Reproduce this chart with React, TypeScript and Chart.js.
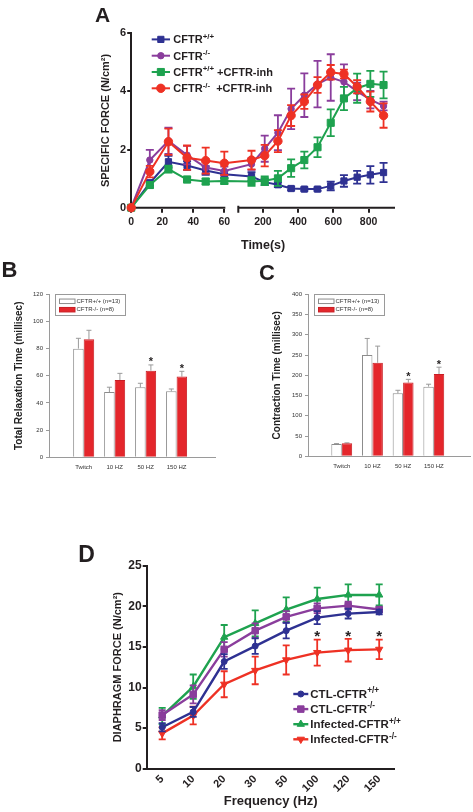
import React, { useEffect, useRef } from 'react';
import { Chart, registerables, LinearScale } from 'chart.js';

Chart.register(...registerables);

const FONT = "'Liberation Sans', Arial, Helvetica, sans-serif";
const INK = '#231f20';
Chart.defaults.font.family = FONT;
Chart.defaults.color = INK;

// ---------------- Panel A data ----------------
const A_TIMES = [0, 12, 24, 36, 48, 60, 135, 210, 285, 360, 435, 510, 585, 660, 735, 810, 885];
const A_TIME_TICKS = [0, 20, 40, 60, 200, 400, 600, 800];
const A_SEG1 = [0, 60];
const A_SEG2 = [60, 950];
const A_WT = [0, 0.85, 1.58, 1.45, 1.28, 1.15, 1.07, 0.88, 0.79, 0.66, 0.64, 0.64, 0.75, 0.92, 1.05, 1.13, 1.21];
const A_WT_ERR = [0, 0.1, 0.2, 0.15, 0.15, 0.12, 0.15, 0.1, 0.08, 0.06, 0.06, 0.06, 0.15, 0.2, 0.22, 0.3, 0.33];
const A_KO = [0, 1.64, 2.3, 1.81, 1.38, 1.26, 1.5, 2.03, 2.58, 3.4, 3.87, 4.25, 4.48, 4.33, 4.0, 3.72, 3.5];
const A_KO_ERR = [0, 0.35, 0.45, 0.32, 0.2, 0.15, 0.2, 0.45, 0.6, 0.7, 0.75, 0.8, 0.8, 0.6, 0.3, 0.3, 0.15];
const A_WT_INH = [0, 0.78, 1.33, 0.97, 0.9, 0.92, 0.9, 0.93, 1.01, 1.36, 1.64, 2.08, 2.92, 3.76, 4.11, 4.26, 4.22];
const A_WT_INH_ERR = [0, 0.1, 0.12, 0.1, 0.1, 0.1, 0.15, 0.15, 0.26, 0.3, 0.29, 0.34, 0.46, 0.4, 0.5, 0.45, 0.46];
const A_KO_INH = [0, 1.24, 2.27, 1.72, 1.62, 1.53, 1.64, 1.79, 2.29, 3.17, 3.65, 4.22, 4.66, 4.6, 4.16, 3.65, 3.17];
const A_KO_INH_ERR = [0, 0.2, 0.45, 0.42, 0.45, 0.4, 0.32, 0.37, 0.38, 0.36, 0.25, 0.27, 0.25, 0.15, 0.23, 0.34, 0.42];
const A_LABELS = ['CFTR^{+/+}', 'CFTR^{-/-}', 'CFTR^{+/+} +CFTR-inh', 'CFTR^{-/-}  +CFTR-inh'];

// ---------------- Panel B / C data ----------------
const BC_CATS = ['Twitch', '10 HZ', '50 HZ', '150 HZ'];
const BC_POS = [1, 2, 3, 4];
const BC_SERIES = ['CFTR+/+ (n=13)', 'CFTR-/- (n=8)'];
const B_WT = [80, 48, 51.5, 48.6];
const B_WT_ERR = [7.6, 3.6, 3.0, 1.7];
const B_KO = [86.9, 56.9, 63.8, 59.4];
const B_KO_ERR = [6.6, 4.9, 4.2, 3.9];
const B_STARS = [false, false, true, true];
const C_WT = [30.4, 250, 155.5, 172];
const C_WT_ERR = [1, 41, 7.5, 6];
const C_KO = [32, 231, 182, 203];
const C_KO_ERR = [1.2, 41, 8, 17];
const C_STARS = [false, false, true, true];

// ---------------- Panel D data ----------------
const D_FREQS = ['5', '10', '20', '30', '50', '100', '120', '150'];
const D_CTL_WT = [5.1, 7.0, 13.2, 15.1, 17.0, 18.6, 19.1, 19.3];
const D_CTL_WT_ERR = [0.5, 0.6, 0.9, 0.95, 0.95, 0.8, 0.6, 0.3];
const D_CTL_KO = [6.6, 9.15, 14.7, 17.0, 18.7, 19.75, 20.08, 19.6];
const D_CTL_KO_ERR = [0.6, 1.1, 0.9, 0.9, 0.7, 0.6, 0.5, 0.3];
const D_INF_WT = [6.5, 10.1, 16.2, 17.9, 19.6, 20.9, 21.4, 21.4];
const D_INF_WT_ERR = [1.0, 1.5, 1.5, 1.6, 1.5, 1.4, 1.3, 1.3];
const D_INF_KO = [4.35, 6.55, 10.4, 12.1, 13.4, 14.3, 14.6, 14.7];
const D_INF_KO_ERR = [0.75, 1.1, 1.6, 1.7, 1.8, 1.6, 1.4, 1.2];
const D_STARS = [false, false, false, false, false, true, true, true];
const D_LABELS = ['CTL-CFTR^{+/+}', 'CTL-CFTR^{-/-}', 'Infected-CFTR^{+/+}', 'Infected-CFTR^{-/-}'];

// ---------------- colours ----------------
const BLUE = '#2e3192';
const PURPLE = '#8a3d9c';
const GREEN = '#1ea24f';
const RED = '#ee3124';
const BAR_RED = '#e4262b';

// broken-axis layout fractions
const BREAK_F1 = 0.353;
const BREAK_F2 = 0.406;

class BrokenTimeScale extends LinearScale {
  static id = 'brokenTime';
  toDecimal(v: number) {
    if (v <= A_SEG1[1]) return ((v - A_SEG1[0]) / (A_SEG1[1] - A_SEG1[0])) * BREAK_F1;
    return BREAK_F2 + ((v - A_SEG2[0]) / (A_SEG2[1] - A_SEG2[0])) * (1 - BREAK_F2);
  }
  getPixelForValue(v: any) {
    if (v === null || v === undefined || isNaN(v)) return NaN;
    return this.getPixelForDecimal(this.toDecimal(v));
  }
  getValueForPixel(p: number) {
    const d = this.getDecimalForPixel(p);
    if (d <= BREAK_F1) return A_SEG1[0] + (d / BREAK_F1) * (A_SEG1[1] - A_SEG1[0]);
    return A_SEG2[0] + ((d - BREAK_F2) / (1 - BREAK_F2)) * (A_SEG2[1] - A_SEG2[0]);
  }
  buildTicks() {
    return A_TIME_TICKS.map((value) => ({ value }));
  }
  drawBorder() {
    const ctx = (this as any).ctx as CanvasRenderingContext2D;
    const bo: any = (this as any).options.border;
    const y = (this as any).top;
    const a = this.getPixelForDecimal(0);
    const b = this.getPixelForDecimal(BREAK_F1);
    const c = this.getPixelForDecimal(BREAK_F2);
    const d = this.getPixelForDecimal(1);
    ctx.save();
    ctx.strokeStyle = bo.color;
    ctx.lineWidth = bo.width;
    ctx.beginPath();
    ctx.moveTo(a - 1, y);
    ctx.lineTo(b + 1, y);
    ctx.moveTo(c, y);
    ctx.lineTo(d, y);
    ctx.moveTo(c, y - 2);
    ctx.lineTo(c, y + 5);
    ctx.stroke();
    ctx.restore();
  }
}
Chart.register(BrokenTimeScale as any);

// ---------------- helpers ----------------
function drawRich(ctx: CanvasRenderingContext2D, text: string, x: number, baseline: number, size: number) {
  const parts = text.split(/(\^\{[^}]*\})/).filter((p) => p.length > 0);
  let cx = x;
  ctx.textAlign = 'left';
  ctx.textBaseline = 'alphabetic';
  for (const p of parts) {
    const sup = p.startsWith('^{');
    const t = sup ? p.slice(2, -1) : p;
    const fs = sup ? size * 0.72 : size;
    ctx.font = `bold ${fs}px ${FONT}`;
    ctx.fillText(t, cx, sup ? baseline - size * 0.42 : baseline);
    cx += ctx.measureText(t).width;
  }
}

function drawMarker(ctx: CanvasRenderingContext2D, style: string, r: number, rot: number, x: number, y: number) {
  ctx.beginPath();
  if (style === 'rect') {
    const s = r * Math.SQRT1_2;
    ctx.rect(x - s, y - s, 2 * s, 2 * s);
  } else if (style === 'triangle') {
    for (let k = 0; k < 3; k++) {
      const a = (rot * Math.PI) / 180 + (k * 2 * Math.PI) / 3;
      const px = x + Math.sin(a) * r;
      const py = y - Math.cos(a) * r;
      if (k === 0) ctx.moveTo(px, py);
      else ctx.lineTo(px, py);
    }
    ctx.closePath();
  } else {
    ctx.arc(x, y, r, 0, Math.PI * 2);
  }
  ctx.fill();
  ctx.stroke();
}

const errorBarsPlugin = {
  id: 'errorBars',
  beforeDatasetDraw(chart: any, args: any) {
    const ds = chart.data.datasets[args.index];
    if (!ds.errors) return;
    const meta = args.meta;
    const ys = chart.scales[meta.yAxisID];
    const ctx = chart.ctx as CanvasRenderingContext2D;
    ctx.save();
    ctx.strokeStyle = ds.errorColor || ds.borderColor;
    ctx.lineWidth = ds.errorWidth || 1.5;
    const cw = ds.capHalf || 3;
    meta.data.forEach((el: any, i: number) => {
      const e = ds.errors[i];
      if (!e) return;
      const v = meta.controller.getParsed(i).y;
      const x = el.x;
      const yt = ys.getPixelForValue(v + e);
      const yb = ds.errorUpOnly ? el.y : ys.getPixelForValue(v - e);
      ctx.beginPath();
      ctx.moveTo(x, yb);
      ctx.lineTo(x, yt);
      ctx.moveTo(x - cw, yt);
      ctx.lineTo(x + cw, yt);
      if (!ds.errorUpOnly) {
        ctx.moveTo(x - cw, yb);
        ctx.lineTo(x + cw, yb);
      }
      ctx.stroke();
    });
    ctx.restore();
  },
};

const starsPlugin = {
  id: 'stars',
  afterDatasetsDraw(chart: any, _args: any, opts: any) {
    const ctx = chart.ctx as CanvasRenderingContext2D;
    chart.data.datasets.forEach((ds: any, i: number) => {
      if (!ds.stars) return;
      const meta = chart.getDatasetMeta(i);
      const ys = chart.scales[meta.yAxisID];
      ds.stars.forEach((on: boolean, j: number) => {
        if (!on) return;
        const el = meta.data[j] as any;
        const v = meta.controller.getParsed(j).y;
        const e = ds.errors ? ds.errors[j] : 0;
        const cy = ys.getPixelForValue(v + e) - opts.gap;
        ctx.save();
        ctx.font = `bold ${opts.size}px ${FONT}`;
        ctx.textAlign = 'center';
        ctx.textBaseline = 'alphabetic';
        ctx.fillStyle = INK;
        ctx.fillText('*', el.x, cy + 0.585 * opts.size);
        ctx.restore();
      });
    });
  },
};

const lineLegendPlugin = {
  id: 'lineLegend',
  afterDraw(chart: any, _args: any, opts: any) {
    if (!opts || !opts.show) return;
    const ctx = chart.ctx as CanvasRenderingContext2D;
    chart.data.datasets.forEach((ds: any, i: number) => {
      const cy = opts.y + i * opts.rowH;
      ctx.save();
      ctx.strokeStyle = ds.borderColor;
      ctx.lineWidth = ds.borderWidth;
      ctx.beginPath();
      ctx.moveTo(opts.x, cy);
      ctx.lineTo(opts.x + opts.lineLen, cy);
      ctx.stroke();
      ctx.fillStyle = ds.borderColor;
      ctx.lineWidth = 1;
      drawMarker(ctx, ds.pointStyle, ds.pointRadius, ds.pointRotation || 0, opts.x + opts.lineLen / 2, cy);
      ctx.fillStyle = INK;
      drawRich(ctx, ds.legendText, opts.x + opts.lineLen + opts.gap, cy + opts.size * 0.36, opts.size);
      ctx.restore();
    });
  },
};

const boxLegendPlugin = {
  id: 'boxLegend',
  afterDraw(chart: any, _args: any, opts: any) {
    if (!opts || !opts.show) return;
    const ctx = chart.ctx as CanvasRenderingContext2D;
    const x0 = Math.round(chart.chartArea.left + opts.dx) + 0.5;
    const y0 = Math.round(chart.chartArea.top + opts.dy) + 0.5;
    ctx.save();
    ctx.strokeStyle = '#9a9a9a';
    ctx.lineWidth = 1;
    ctx.strokeRect(x0, y0, opts.w, opts.h);
    chart.data.datasets.forEach((ds: any, i: number) => {
      const cy = y0 + opts.firstRow + i * opts.rowH;
      ctx.fillStyle = ds.backgroundColor;
      ctx.fillRect(x0 + opts.swX, cy - opts.swH / 2, opts.swW, opts.swH);
      ctx.strokeStyle = ds.borderColor;
      ctx.strokeRect(x0 + opts.swX, cy - opts.swH / 2, opts.swW, opts.swH);
      ctx.fillStyle = '#333';
      ctx.font = `${opts.size}px ${FONT}`;
      ctx.textAlign = 'left';
      ctx.textBaseline = 'middle';
      ctx.fillText(ds.label, x0 + opts.textX, cy);
    });
    ctx.restore();
  },
};

// ---------------- configs ----------------
function lineDs(label: string, xs: any[] | null, ys: number[], errs: number[], color: string, style: string, r: number, extra: any = {}) {
  return {
    label,
    legendText: label,
    data: xs ? ys.map((y, i) => ({ x: xs[i], y })) : ys,
    borderColor: color,
    backgroundColor: color,
    pointBackgroundColor: color,
    pointBorderColor: color,
    pointBorderWidth: 1,
    pointStyle: style,
    pointRadius: r,
    borderWidth: 2,
    tension: 0,
    clip: false,
    errors: errs,
    errorColor: color,
    errorWidth: 1.8,
    ...extra,
  };
}

function configA() {
  return {
    type: 'line',
    data: {
      datasets: [
        lineDs(A_LABELS[0], A_TIMES, A_WT, A_WT_ERR, BLUE, 'rect', 4.4, { order: 4, capHalf: 4 }),
        lineDs(A_LABELS[1], A_TIMES, A_KO, A_KO_ERR, PURPLE, 'circle', 3.2, { order: 3, capHalf: 4 }),
        lineDs(A_LABELS[2], A_TIMES, A_WT_INH, A_WT_INH_ERR, GREEN, 'rect', 5, { order: 2, capHalf: 4 }),
        lineDs(A_LABELS[3], A_TIMES, A_KO_INH, A_KO_INH_ERR, RED, 'circle', 4.2, { order: 1, capHalf: 4 }),
      ],
    },
    options: {
      responsive: false,
      animation: false,
      devicePixelRatio: 1,
      layout: { padding: { left: 99.4, right: 78, top: 33.3, bottom: 2 } },
      plugins: {
        legend: { display: false },
        tooltip: { enabled: false },
        lineLegend: { show: true, x: 151.7, y: 39.4, rowH: 16.3, lineLen: 18.3, gap: 3.3, size: 11 },
      },
      scales: {
        x: {
          type: 'brokenTime',
          min: 0,
          max: 950,
          afterFit: (s: any) => { s.height = 45.3; },
          ticks: { autoSkip: false, maxRotation: 0, padding: 3, font: { size: 10.5, weight: 'bold' }, color: INK },
          grid: { display: true, drawOnChartArea: false, drawTicks: true, tickLength: 5, color: INK, lineWidth: 2 },
          border: { display: true, color: INK, width: 2 },
          title: { display: true, text: 'Time(s)', padding: 0, font: { size: 12.5, weight: 'bold' }, color: INK },
        },
        y: {
          min: 0,
          max: 6,
          afterFit: (s: any) => { s.width = 31.8; },
          ticks: { stepSize: 2, padding: 1, font: { size: 11, weight: 'bold' }, color: INK },
          grid: { display: true, drawOnChartArea: false, drawTicks: true, tickLength: 4, color: INK, lineWidth: 2 },
          border: { display: true, color: INK, width: 2 },
          title: { display: true, text: 'SPECIFIC FORCE (N/cm²)', padding: 0, font: { size: 11, weight: 'bold' }, color: INK },
        },
      },
    },
    plugins: [errorBarsPlugin, lineLegendPlugin],
  };
}

function barDs(label: string, ys: number[], errs: number[], fill: string, border: string, stars: boolean[] | null) {
  return {
    label,
    data: ys.map((y, i) => ({ x: BC_POS[i], y })),
    backgroundColor: fill,
    borderColor: border,
    borderWidth: 1,
    borderSkipped: 'bottom',
    errors: errs,
    errorUpOnly: true,
    errorColor: '#9a9a9a',
    errorWidth: 1,
    capHalf: 2.5,
    stars,
  };
}

function configBC(wt: number[], wtErr: number[], ko: number[], koErr: number[], stars: boolean[], yMax: number, yStep: number, title: string, pad: any, yWidth: number, xHeight: number, xMin: number, xMax: number) {
  return {
    type: 'bar',
    data: {
      datasets: [
        barDs(BC_SERIES[0], wt, wtErr, '#ffffff', '#8c8c8c', null),
        barDs(BC_SERIES[1], ko, koErr, BAR_RED, '#c81e24', stars),
      ],
    },
    options: {
      responsive: false,
      animation: false,
      devicePixelRatio: 1,
      layout: { padding: pad },
      datasets: { bar: { categoryPercentage: 0.68, barPercentage: 1 } },
      plugins: {
        legend: { display: false },
        tooltip: { enabled: false },
        stars: { gap: 6, size: 11 },
        boxLegend: { show: true, dx: 5.5, dy: 0, w: 70, h: 21, swX: 4, swW: 15.5, swH: 4.5, firstRow: 6.8, rowH: 8.4, textX: 21, size: 6 },
      },
      scales: {
        x: {
          type: 'linear',
          min: xMin,
          max: xMax,
          offset: false,
          afterFit: (s: any) => { s.height = xHeight; },
          afterBuildTicks: (s: any) => { s.ticks = BC_POS.map((value) => ({ value })); },
          ticks: { autoSkip: false, maxRotation: 0, padding: 6, font: { size: 6 }, color: '#333', callback: (v: any) => BC_CATS[BC_POS.indexOf(v)] ?? '' },
          grid: { display: false, drawTicks: false, offset: false },
          border: { display: true, color: '#9a9a9a', width: 1 },
        },
        y: {
          min: 0,
          max: yMax,
          afterFit: (s: any) => { s.width = yWidth; },
          ticks: { stepSize: yStep, padding: 3, font: { size: 6 }, color: '#333' },
          grid: { display: true, drawOnChartArea: false, drawTicks: true, tickLength: 3, color: '#9a9a9a', lineWidth: 1 },
          border: { display: true, color: '#9a9a9a', width: 1 },
          title: { display: true, text: title, padding: 0, font: { size: 10, weight: 'bold' }, color: '#222' },
        },
      },
    },
    plugins: [errorBarsPlugin, starsPlugin, boxLegendPlugin],
  };
}

function configD() {
  return {
    type: 'line',
    data: {
      labels: D_FREQS,
      datasets: [
        lineDs(D_LABELS[0], null, D_CTL_WT, D_CTL_WT_ERR, BLUE, 'circle', 3, { capHalf: 3.5 }),
        lineDs(D_LABELS[1], null, D_CTL_KO, D_CTL_KO_ERR, PURPLE, 'rect', 4.6, { capHalf: 3.5 }),
        lineDs(D_LABELS[2], null, D_INF_WT, D_INF_WT_ERR, GREEN, 'triangle', 4.2, { capHalf: 3.5 }),
        lineDs(D_LABELS[3], null, D_INF_KO, D_INF_KO_ERR, RED, 'triangle', 4.2, { capHalf: 3.5, pointRotation: 180, stars: D_STARS }),
      ].map((d: any) => ({ ...d, borderWidth: 2.4 })),
    },
    options: {
      responsive: false,
      animation: false,
      devicePixelRatio: 1,
      layout: { padding: { left: 111.4, right: 78.3, top: 35.7, bottom: 2.5 } },
      plugins: {
        legend: { display: false },
        tooltip: { enabled: false },
        stars: { gap: 7, size: 15 },
        lineLegend: { show: true, x: 293.3, y: 164, rowH: 15.1, lineLen: 15, gap: 2, size: 11.5 },
      },
      scales: {
        x: {
          type: 'category',
          offset: true,
          afterFit: (s: any) => { s.height = 40.8; },
          ticks: { autoSkip: false, minRotation: 45, maxRotation: 45, padding: 4, font: { size: 11, weight: 'bold' }, color: INK },
          grid: { display: false, drawTicks: false },
          border: { display: true, color: INK, width: 2 },
          title: { display: true, text: 'Frequency (Hz)', padding: 0, font: { size: 13, weight: 'bold' }, color: INK },
        },
        y: {
          min: 0,
          max: 25,
          afterFit: (s: any) => { s.width = 35.3; },
          ticks: { stepSize: 5, padding: 1, font: { size: 12, weight: 'bold' }, color: INK },
          grid: { display: true, drawOnChartArea: false, drawTicks: true, tickLength: 4, color: INK, lineWidth: 2 },
          border: { display: true, color: INK, width: 2 },
          title: { display: true, text: 'DIAPHRAGM FORCE (N/cm²)', padding: 0, font: { size: 11, weight: 'bold' }, color: INK },
        },
      },
    },
    plugins: [errorBarsPlugin, starsPlugin, lineLegendPlugin],
  };
}

function ChartBox({ build, left, top, width, height }: { build: () => any; left: number; top: number; width: number; height: number }) {
  const ref = useRef<HTMLCanvasElement>(null);
  useEffect(() => {
    const chart = new Chart(ref.current as HTMLCanvasElement, build());
    return () => chart.destroy();
  }, []);
  return <canvas ref={ref} width={width} height={height} style={{ position: 'absolute', left, top, width, height }} />;
}

function Letter({ ch, left, top, size }: { ch: string; left: number; top: number; size: number }) {
  return (
    <div style={{ position: 'absolute', left, top, fontFamily: FONT, fontWeight: 'bold', fontSize: size, lineHeight: 1, color: INK }}>{ch}</div>
  );
}

export default function App() {
  return (
    <div style={{ position: 'absolute', left: 0, top: 0, width: 473, height: 812, background: '#ffffff', overflow: 'hidden' }}>
      <ChartBox build={configA} left={0} top={0} width={473} height={255} />
      <ChartBox
        build={() => configBC(B_WT, B_WT_ERR, B_KO, B_KO_ERR, B_STARS, 120, 20, 'Total Relaxation Time (millisec)', { left: 13, right: 21, top: 14.3, bottom: 0 }, 36, 22.7, -0.12, 5.24)}
        left={0}
        top={280}
        width={236}
        height={200}
      />
      <ChartBox
        build={() => configBC(C_WT, C_WT_ERR, C_KO, C_KO_ERR, C_STARS, 400, 50, 'Contraction Time (millisec)', { left: 35, right: 3, top: 14.3, bottom: 0 }, 37, 23.7, -0.1, 5.18)}
        left={236}
        top={280}
        width={237}
        height={200}
      />
      <ChartBox build={configD} left={0} top={530} width={473} height={282} />
      <Letter ch="A" left={95} top={4.2} size={21} />
      <Letter ch="B" left={1.4} top={259.4} size={22} />
      <Letter ch="C" left={259} top={262.4} size={22} />
      <Letter ch="D" left={78.3} top={542.5} size={23} />
    </div>
  );
}
